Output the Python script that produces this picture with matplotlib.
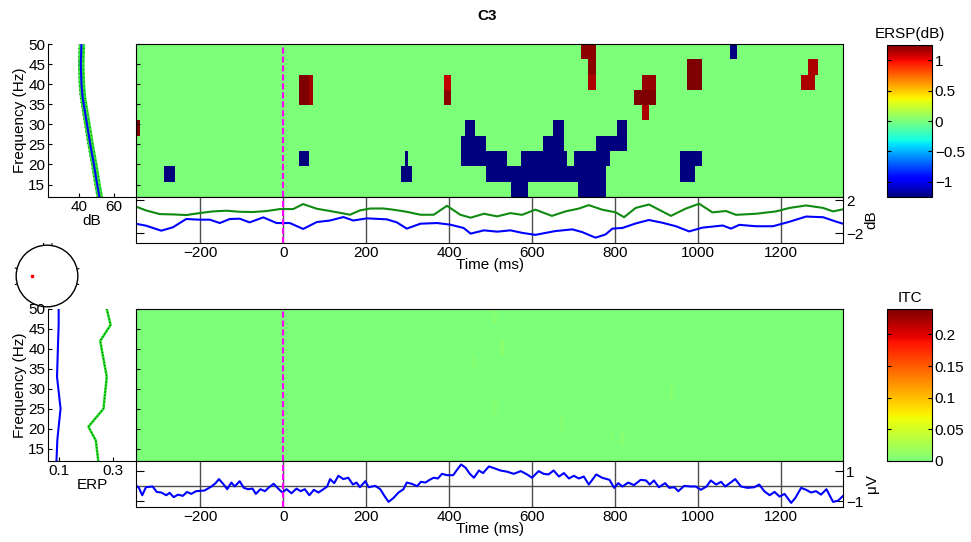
import matplotlib
matplotlib.use('Agg')
import matplotlib.pyplot as plt
import numpy as np
from matplotlib.colors import LinearSegmentedColormap
from matplotlib.patches import Circle

plt.rcParams['font.family'] = ['Liberation Sans', 'DejaVu Sans']
plt.rcParams['font.size'] = 11

# time / frequency ranges of the decomposition
T_MIN, T_MAX = -355, 1350
F_MIN, F_MAX = 11.9, 50
N_ROWS, N_COLS = 10, 200
time_ticks = [-200, 0, 200, 400, 600, 800, 1000, 1200]
freq_ticks = [15, 20, 25, 30, 35, 40, 45, 50]

# baseline power spectrum (dB)
pow_freqs = [50, 45, 40, 37, 35, 30, 25, 20, 15, 11.9]
pow_db = [41.4, 41.0, 41.4, 42.0, 42.7, 44.6, 46.5, 48.6, 50.5, 51.8]
pow_conf = 1.9

# significant ERSP blobs: (freq row from top, t start, t end, dB)
ersp_blobs = [
    (5, -355, -345, 1.25),
    (8, -288, -262, -1.25),
    (2, 38, 72, 1.25), (3, 38, 72, 1.25),
    (2, 63, 72, 1.17), (3, 63, 72, 1.17),
    (7, 38, 62, -1.25),
    (7, 295, 305, -1.25), (8, 285, 312, -1.25),
    (2, 389, 405, 1.1), (3, 389, 405, 1.22),
    (5, 440, 467, -1.25), (5, 655, 679, -1.25), (5, 808, 826, -1.25),
    (6, 432, 490, -1.25), (6, 628, 679, -1.25), (6, 756, 826, -1.25),
    (7, 432, 544, -1.25), (7, 577, 689, -1.25), (7, 705, 791, -1.25),
    (8, 490, 783, -1.25),
    (9, 551, 595, -1.25), (9, 713, 783, -1.25),
    (7, 955, 1006, -1.25), (8, 962, 989, -1.25),
    (0, 1073, 1090, -1.25),
    (0, 723, 749, 1.22), (1, 732, 749, 1.22), (2, 732, 749, 1.15),
    (2, 860, 894, 1.2), (3, 851, 894, 1.25), (4, 868, 878, 1.15),
    (1, 979, 1013, 1.25), (2, 979, 1013, 1.25),
    (1, 1262, 1289, 1.15), (2, 1245, 1279, 1.15),
]

# ERSP envelope (dB)
env_hi_t = [-356, -331, -298, -266, -234, -202, -169, -137, -105, -73, -40, -8,
            24, 48, 81, 113, 145, 161, 185, 210, 242, 266, 298, 331, 363, 395,
            427, 452, 484, 516, 548, 576, 608, 648, 681, 713, 737, 769, 802,
            822, 850, 882, 906, 935, 971, 1003, 1035, 1068, 1092, 1140, 1189,
            1221, 1261, 1302, 1326, 1350]
env_hi = [1.25, 0.77, 0.32, 0.28, 0.2, 0.44, 0.65, 0.73, 0.6, 0.57, 0.69, 0.93,
          0.93, 1.54, 0.97, 0.69, 0.4, 0.24, 0.77, 1.0, 1.0, 0.85, 0.6, 0.24,
          0.24, 1.33, 0.24, -0.12, 0.36, 0.04, 0.44, 0.23, 0.86, 0.1, 0.65,
          0.99, 1.41, 0.86, 0.53, -0.06, 1.07, 1.49, 0.86, 0.1, 0.99, 1.58,
          0.53, 0.69, 0.23, 0.36, 0.65, 1.07, 1.37, 1.07, 0.65, 0.9]
env_lo_t = [-356, -331, -294, -266, -234, -202, -177, -153, -129, -105, -81,
            -48, -16, 16, 48, 81, 113, 145, 169, 202, 250, 274, 298, 331, 371,
            403, 435, 452, 484, 516, 548, 576, 608, 656, 697, 721, 753, 777,
            794, 818, 850, 882, 915, 947, 979, 1011, 1060, 1080, 1100, 1140,
            1181, 1221, 1261, 1302, 1334, 1350]
env_lo = [-0.85, -1.09, -1.7, -1.29, -0.28, -0.36, -0.36, -0.77, -0.28, -0.24,
          -0.69, -0.08, -0.77, -0.77, -1.49, -0.65, -0.46, -0.04, -0.46, -0.2,
          -0.32, -0.69, -1.45, -0.85, -0.77, -0.97, -1.37, -2.06, -1.66,
          -1.82, -1.66, -1.96, -2.21, -1.75, -1.54, -1.87, -2.55, -2.17,
          -1.45, -1.37, -0.82, -0.4, -0.74, -1.16, -1.79, -1.33, -1.07,
          -1.45, -0.99, -1.16, -1.16, -0.61, 0.02, -0.06, -0.61, -0.85]

# ITC cells above zero: (freq row from top, t start, t end, ITC)
itc_cells = [
    (0, 507, 516, 0.006), (2, 525, 533, 0.008), (3, 455, 463, 0.005),
    (5, 929, 937, 0.007), (6, 510, 518, 0.005), (7, 672, 680, 0.005),
    (8, 791, 799, 0.004), (8, 817, 825, 0.006),
]

# ERP-image side panel
itc_side_f = [50, 46, 42, 33, 25, 20.5, 17, 11.9]
itc_side_blue = [0.1, 0.1, 0.098, 0.094, 0.107, 0.1, 0.095, 0.092]
itc_side_green = [0.276, 0.29, 0.252, 0.276, 0.264, 0.209, 0.236, 0.245]

# ERP (uV)
erp_t = [-356, -348, -340, -331, -315, -305, -294, -282, -274, -264, -254, -242,
         -232, -222, -210, -190, -173, -163, -155, -145, -135, -125, -117, -105,
         -95, -85, -74, -66, -55, -44, -34, -23, -12, -2, 8, 20, 32, 42, 52, 63,
         74, 85, 97, 106, 113, 123, 133, 145, 157, 168, 177, 185, 198, 206, 222,
         234, 244, 254, 266, 278, 290, 298, 310, 323, 332, 343, 353, 363, 373,
         383, 395, 410, 418, 429, 440, 450, 460, 472, 482, 496, 510, 524, 540,
         556, 573, 588, 600, 616, 628, 640, 652, 665, 677, 689, 701, 713, 725,
         737, 755, 769, 787, 798, 808, 818, 832, 846, 862, 875, 884, 894, 906,
         921, 931, 943, 953, 967, 983, 995, 1007, 1021, 1031, 1044, 1056, 1066,
         1077, 1090, 1104, 1120, 1136, 1148, 1160, 1173, 1185, 1197, 1209,
         1225, 1235, 1249, 1261, 1273, 1285, 1297, 1310, 1326, 1338, 1350]
erp_uv = [0.07, -0.11, -0.6, -0.07, -0.02, -0.38, -0.42, -0.6, -0.44, -0.73,
          -0.56, -0.64, -0.38, -0.51, -0.33, -0.29, -0.02, 0.2, 0.47, 0.16,
          -0.2, 0.24, -0.02, 0.33, -0.11, -0.2, -0.16, -0.51, -0.2, -0.33,
          -0.07, 0.16, -0.16, -0.42, -0.2, -0.47, -0.16, -0.33, -0.2, -0.6,
          -0.24, -0.42, -0.2, -0.02, 0.47, 0.2, 0.69, 0.47, 0.56, 0.11, 0.24,
          -0.07, 0.33, -0.07, 0.02, -0.2, -0.64, -1.04, -0.78, -0.42, -0.2,
          0.24, 0.16, 0.0, 0.29, 0.24, 0.42, 0.56, 0.51, 0.82, 0.73, 0.73,
          1.04, 1.44, 1.22, 0.82, 0.56, 1.04, 0.87, 1.31, 1.18, 1.04, 0.96,
          0.82, 1.0, 0.78, 0.56, 1.0, 0.82, 0.78, 1.04, 0.64, 0.87, 0.51, 0.69,
          0.51, 0.64, 0.11, 0.78, 0.56, 0.42, -0.11, 0.2, -0.02, 0.24, 0.07,
          0.42, 0.38, 0.11, 0.38, -0.07, 0.2, -0.11, -0.07, -0.33, 0.02, -0.02,
          -0.02, -0.24, -0.02, 0.38, 0.11, 0.29, -0.02, 0.2, 0.47, -0.02,
          -0.11, -0.07, 0.11, -0.33, -0.6, -0.38, -0.69, -0.51, -1.11, -0.78,
          -0.11, -0.24, -0.42, -0.33, -0.56, -0.2, -1.04, -0.96, -0.65]

# electrode location on the scalp map (unit head radius)
chan_xy = (-0.49, -0.01)

W, H = 971, 542
fig = plt.figure(figsize=(W / 100, H / 100), dpi=100)


def px_axes(x0, y0, x1, y1):
    return fig.add_axes([x0 / W, 1 - y1 / H, (x1 - x0) / W, (y1 - y0) / H])


def cell_grid(cells):
    col_t = T_MIN + (np.arange(N_COLS) + 0.5) * (T_MAX - T_MIN) / N_COLS
    grid = np.zeros((N_ROWS, N_COLS))
    for row, t0, t1, val in cells:
        grid[row, (col_t >= t0) & (col_t <= t1)] = val
    return grid


def zero_line(ax):
    ax.axvline(0, color='magenta', lw=1.5, ls=(0, (3, 1.3)))


def style_trace_axes(ax, lim, ticks, label):
    ax.set_xlim(T_MIN, T_MAX)
    ax.set_ylim(*lim)
    ax.set_xticks(time_ticks)
    ax.set_yticks(ticks)
    ax.grid(axis='x', color='0.3', lw=1)
    ax.tick_params(axis='x', length=0, pad=2)
    ax.tick_params(axis='y', direction='in', left=True, right=True,
                   labelleft=False, labelright=True, length=6, pad=2)
    ax.yaxis.set_label_position('right')
    ax.set_ylabel(label, labelpad=1)
    ax.set_xlabel('Time (ms)', labelpad=-1)
    zero_line(ax)


def style_side_axes(ax):
    ax.set_ylim(F_MIN, F_MAX)
    ax.set_yticks(freq_ticks)
    ax.spines['top'].set_visible(False)
    ax.spines['right'].set_visible(False)
    ax.tick_params(direction='in', length=3, pad=2)
    ax.set_ylabel('Frequency (Hz)', labelpad=1)


itc_cmap = LinearSegmentedColormap.from_list(
    'itc', plt.cm.jet(np.linspace(0.5, 1.0, 128)))

# ---- ERSP ----
ax_pow = px_axes(48, 44, 136, 197)
ax_pow.fill_betweenx(pow_freqs, np.array(pow_db) - pow_conf,
                     np.array(pow_db) + pow_conf, color='#33e633', lw=0)
for sign in (-1, 1):
    ax_pow.plot(np.array(pow_db) + sign * 0.8 * pow_conf, pow_freqs,
                color='k', lw=0.5, ls=(0, (1, 5)))
ax_pow.plot(pow_db, pow_freqs, color='blue', lw=1.5)
ax_pow.set_xlim(22, 73)
ax_pow.set_xticks([40, 60])
ax_pow.set_xlabel('dB', labelpad=0)
style_side_axes(ax_pow)

ax_ersp = px_axes(136, 44, 843, 197)
im1 = ax_ersp.imshow(cell_grid(ersp_blobs), cmap='jet', vmin=-1.25, vmax=1.25,
                     aspect='auto', interpolation='nearest', origin='upper',
                     extent=[T_MIN, T_MAX, F_MIN, F_MAX])
ax_ersp.set_yticks(freq_ticks)
ax_ersp.tick_params(direction='in', length=3, labelleft=False, bottom=False,
                    labelbottom=False)
zero_line(ax_ersp)

ax_env = px_axes(136, 197, 843, 243)
ax_env.plot(env_hi_t, env_hi, color='#108a10', lw=1.5)
ax_env.plot(env_lo_t, env_lo, color='blue', lw=1.5)
style_trace_axes(ax_env, (-3.2, 2.4), [-2, 2], 'dB')

cax1 = px_axes(887, 45, 932, 197)
cb1 = fig.colorbar(im1, cax=cax1, ticks=[-1, -0.5, 0, 0.5, 1])
cb1.ax.set_yticklabels(['\u22121', '\u22120.5', '0', '0.5', '1'])
cb1.ax.tick_params(direction='in', length=3, left=True, right=True, pad=2)
cax1.set_title('ERSP(dB)', fontsize=11, pad=5)

# ---- scalp map ----
ax_head = px_axes(10, 239, 84, 313)
ax_head.add_patch(Circle((0, 0), 1, fill=False, color='k', lw=1))
for ang in (81, 96, 166, 195, 345, 13):
    a = np.deg2rad(ang)
    ax_head.plot([np.cos(a), 1.06 * np.cos(a)], [np.sin(a), 1.06 * np.sin(a)],
                 color='k', lw=0.8)
ax_head.plot(*chan_xy, 's', color='red', ms=2)
ax_head.set_xlim(-1.2, 1.2)
ax_head.set_ylim(-1.2, 1.2)
ax_head.set_aspect('equal')
ax_head.axis('off')

# ---- ITC ----
ax_itcf = px_axes(48, 309, 136, 461)
ax_itcf.plot(itc_side_blue, itc_side_f, color='blue', lw=1.5)
ax_itcf.plot(itc_side_green, itc_side_f, color='#22dd22', lw=1.8)
ax_itcf.plot(itc_side_green, itc_side_f, color='k', lw=0.6, ls=(0, (1, 3)))
ax_itcf.set_xlim(0.061, 0.383)
ax_itcf.set_xticks([0.1, 0.3])
ax_itcf.set_xticklabels(['0.1', '0.3'])
ax_itcf.set_xlabel('ERP', labelpad=0)
style_side_axes(ax_itcf)

ax_itc = px_axes(136, 309, 843, 461)
im2 = ax_itc.imshow(cell_grid(itc_cells), cmap=itc_cmap, vmin=0, vmax=0.24,
                    aspect='auto', interpolation='nearest', origin='upper',
                    extent=[T_MIN, T_MAX, F_MIN, F_MAX])
ax_itc.set_yticks(freq_ticks)
ax_itc.tick_params(direction='in', length=3, labelleft=False, bottom=False,
                   labelbottom=False)
zero_line(ax_itc)

ax_erp = px_axes(136, 461, 843, 507)
ax_erp.axhline(0, color='0.3', lw=1)
ax_erp.plot(erp_t, erp_uv, color='blue', lw=1.5)
style_trace_axes(ax_erp, (-1.38, 1.67), [-1, 1], '\u03bcV')

cax2 = px_axes(887, 309, 932, 461)
cb2 = fig.colorbar(im2, cax=cax2, ticks=[0, 0.05, 0.1, 0.15, 0.2])
cb2.ax.set_yticklabels(['0', '0.05', '0.1', '0.15', '0.2'])
cb2.ax.tick_params(direction='in', length=3, left=True, right=True, pad=2)
cax2.set_title('ITC', fontsize=11, pad=5)

fig.text(487 / W, 1 - 16 / H, 'C3', ha='center', va='center',
         fontweight='bold', fontsize=11)

fig.savefig('out.png', dpi=100)
